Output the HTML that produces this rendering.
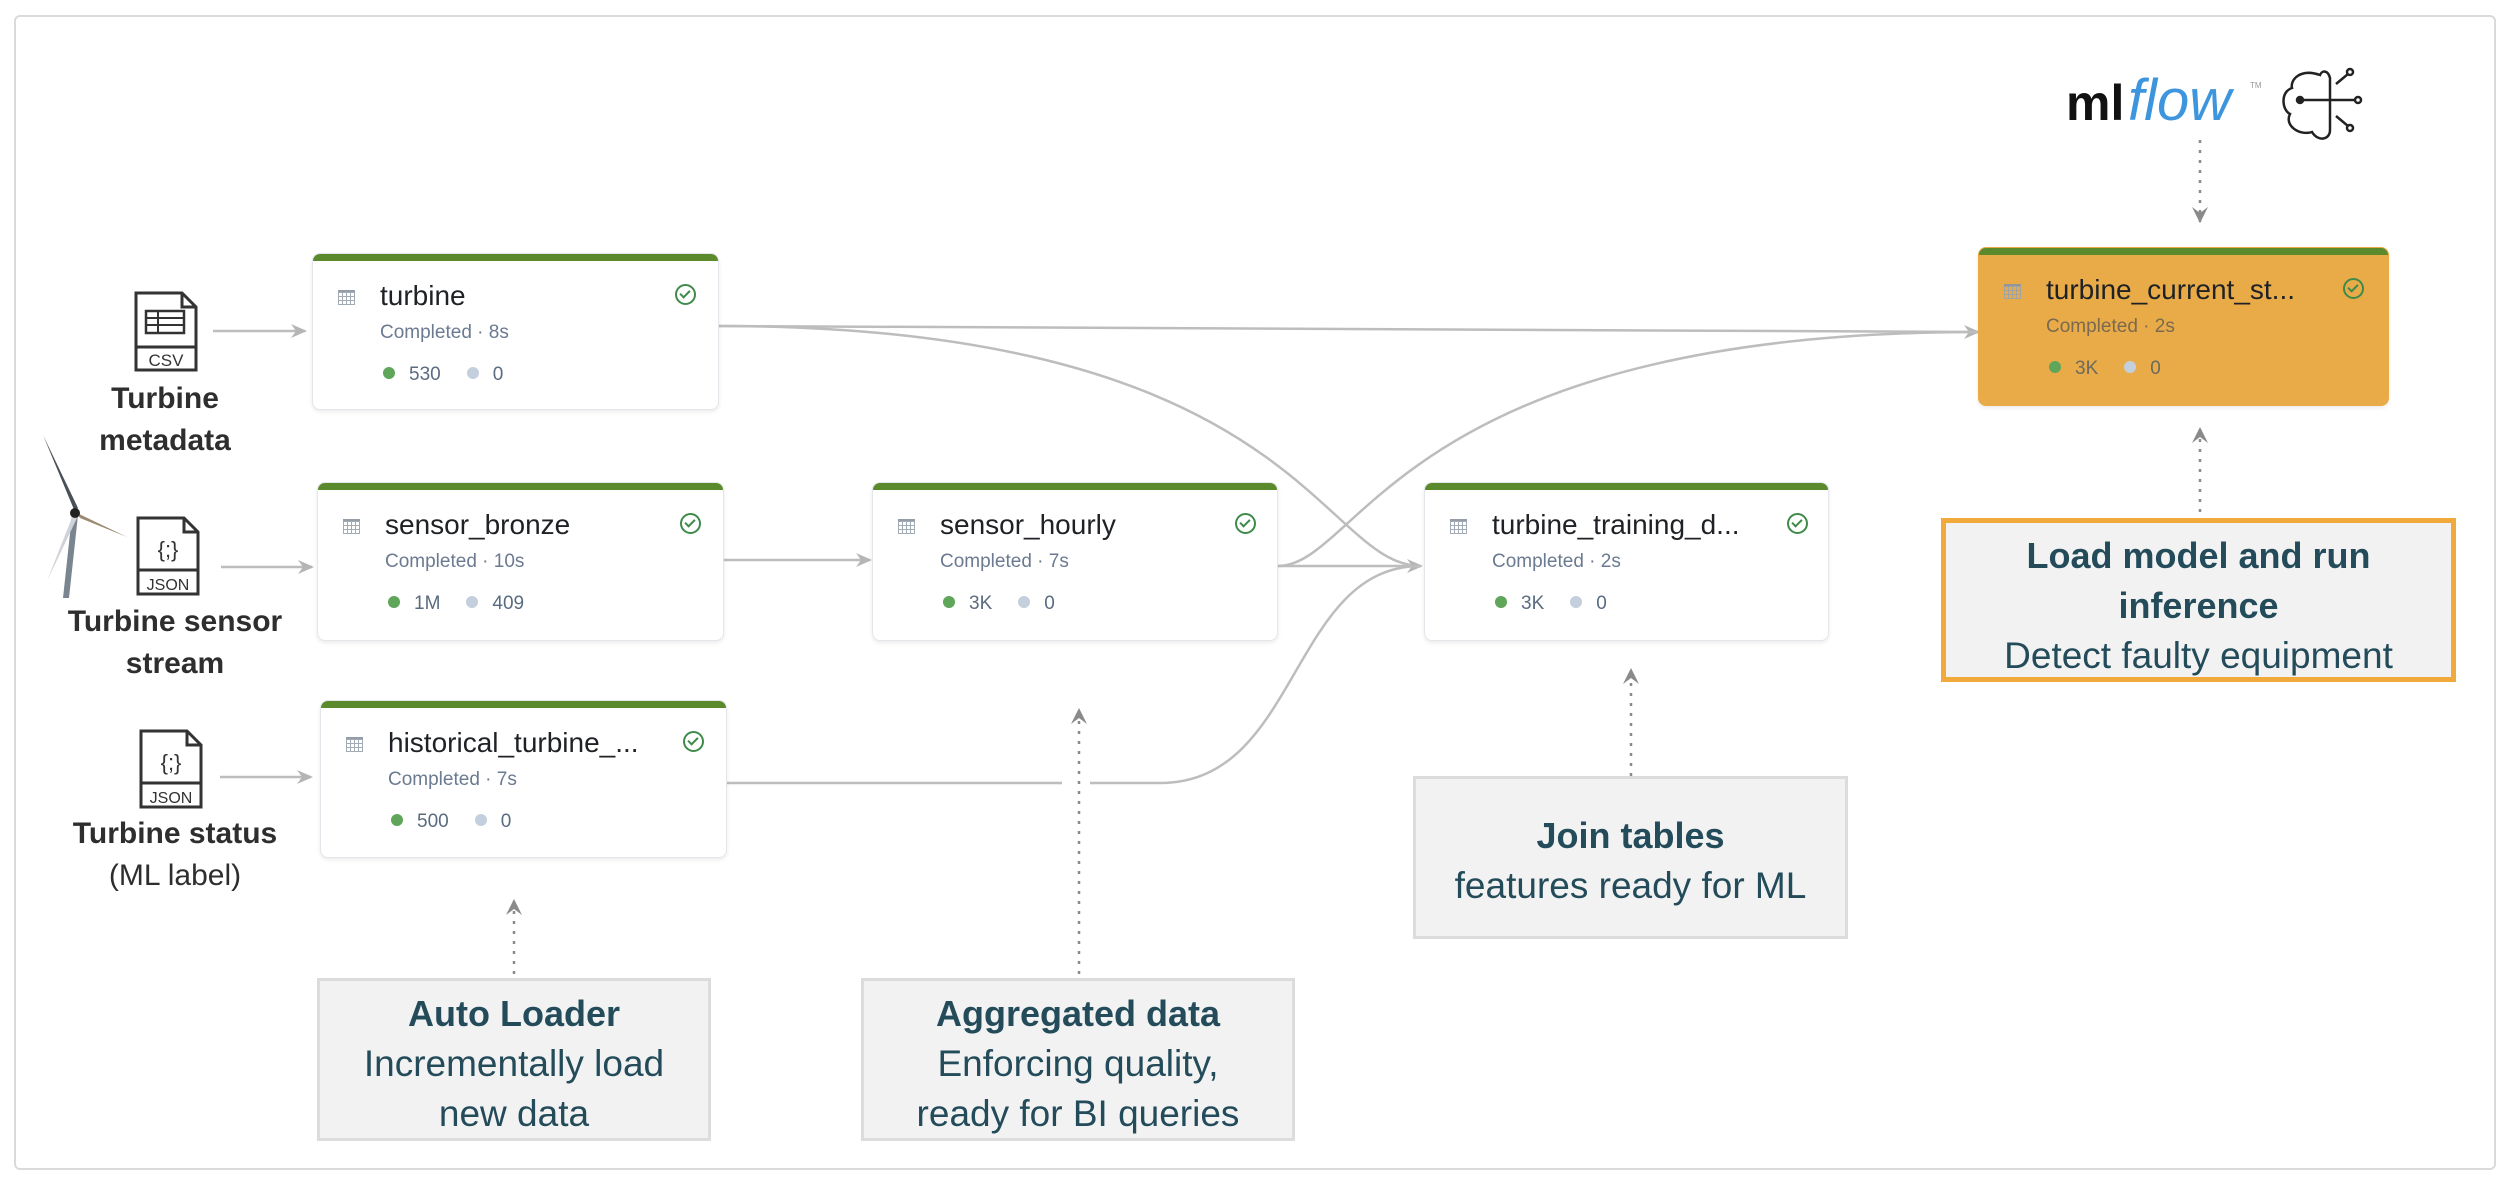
<!DOCTYPE html>
<html><head><meta charset="utf-8"><style>
body{margin:0;background:#fff;width:2508px;height:1182px;position:relative;overflow:hidden;font-family:"Liberation Sans",sans-serif}
.card{position:absolute;background:#fff;border:1px solid #e3e6ea;border-radius:8px;box-shadow:0 2px 4px rgba(0,0,0,.08);overflow:hidden;box-sizing:border-box}
.card .bar{position:absolute;left:0;top:0;right:0;height:7px;background:#5b8a2c}
.card .ic{position:absolute;left:25px;top:36px;width:17px;height:15px;background:
linear-gradient(#8a93a0,#8a93a0) 0 0/100% 2px no-repeat,
repeating-linear-gradient(90deg,#9aa3ae 0 1px,transparent 1px 4px),
repeating-linear-gradient(0deg,#9aa3ae 0 1px,transparent 1px 4px);opacity:.9}
.card .t{position:absolute;left:67px;top:26px;font-size:28px;color:#1e2125;white-space:nowrap}
.card .c{position:absolute;left:67px;top:68px;font-size:19px;color:#6b7a90;white-space:nowrap}
.card .s{position:absolute;left:70px;top:110px;font-size:19px;color:#5a6b80;white-space:nowrap}
.dot{display:inline-block;width:12px;height:12px;border-radius:50%;vertical-align:middle;margin-right:14px;position:relative;top:-2px}
.g{background:#5fa55a}.b{background:#c3cfdc;margin-left:26px}
.chk{position:absolute;left:362px;top:30px;width:17px;height:17px;border:2px solid #3e8a4a;border-radius:50%}
.chk:after{content:"";position:absolute;left:5px;top:2px;width:4px;height:8px;border:solid #3e8a4a;border-width:0 2px 2px 0;transform:rotate(45deg)}
.lbl{position:absolute;text-align:center;color:#2e2e2e;font-size:30px;line-height:42px}
.box{position:absolute;background:#f2f2f2;border:3px solid #dcdcdc;box-sizing:border-box;text-align:center;color:#234b5a;font-size:37px;line-height:50px}
.box b{font-size:36px}
</style></head><body>
<div style="position:absolute;left:14px;top:15px;width:2478px;height:1151px;border:2px solid #dadada;border-radius:6px"></div>

<svg width="2508" height="1182" style="position:absolute;left:0;top:0">
<defs>
<marker id="a" markerWidth="16" markerHeight="14" refX="14" refY="7" orient="auto" markerUnits="userSpaceOnUse"><path d="M0,0 L16,7 L0,14 L5,7 z" fill="#b5b5b5"/></marker>
<marker id="d" markerWidth="16" markerHeight="30" refX="15" refY="8" orient="auto" markerUnits="userSpaceOnUse"><path d="M0,0 L16,8 L0,16 L6,8 z" fill="#8a8a8a"/></marker>
</defs>
<g fill="none" stroke="#bdbdbd" stroke-width="2.5">
<path d="M213,331 L305,331" marker-end="url(#a)"/>
<path d="M221,567 L312,567" marker-end="url(#a)"/>
<path d="M220,777 L311,777" marker-end="url(#a)"/>
<path d="M719,326 C1200,328 1600,332 1978,332" marker-end="url(#a)"/>
<path d="M719,326 C1300,326 1320,566 1421,566"/>
<path d="M1278,566 C1360,566 1400,332 1978,332"/>
<path d="M1278,566 L1421,566" marker-end="url(#a)"/>
<path d="M724,560 L870,560" marker-end="url(#a)"/>
<path d="M727,783 L1062,783 M1090,783 L1160,783 C1300,783 1290,566 1421,566" />
</g>
<g fill="none" stroke="#8a8a8a" stroke-width="2.5" stroke-dasharray="3,7">
<path d="M2200,140 L2200,222" marker-end="url(#d)"/>
<path d="M2200,512 L2200,428" marker-end="url(#d)"/>
<path d="M514,974 L514,900" marker-end="url(#d)"/>
<path d="M1079,974 L1079,709" marker-end="url(#d)"/>
<path d="M1631,776 L1631,669" marker-end="url(#d)"/>
</g>
<!-- CSV icon -->
<g fill="none" stroke="#333" stroke-width="3">
<path d="M136,293 L182,293 L196,307 L196,370 L136,370 Z"/><path d="M182,293 L182,307 L196,307"/>
<path d="M136,347 L196,347"/>
<rect x="146" y="311" width="38" height="22" stroke-width="2.5"/><path d="M146,318 H184 M146,325 H184 M158,311 V333" stroke-width="2"/>
</g>
<text x="166" y="366" font-family="Liberation Sans" font-size="17" text-anchor="middle" fill="#333">CSV</text>
<!-- JSON icons -->
<g fill="none" stroke="#333" stroke-width="3">
<path d="M138,518 L184,518 L198,532 L198,594 L138,594 Z"/><path d="M184,518 L184,532 L198,532"/><path d="M138,570 L198,570"/>
<path d="M141,731 L187,731 L201,745 L201,807 L141,807 Z"/><path d="M187,731 L187,745 L201,745"/><path d="M141,783 L201,783"/>
</g>
<text x="168" y="557" font-family="Liberation Sans" font-size="22" text-anchor="middle" fill="#333">{;}</text>
<text x="168" y="590" font-family="Liberation Sans" font-size="16" text-anchor="middle" fill="#333">JSON</text>
<text x="171" y="770" font-family="Liberation Sans" font-size="22" text-anchor="middle" fill="#333">{;}</text>
<text x="171" y="803" font-family="Liberation Sans" font-size="16" text-anchor="middle" fill="#333">JSON</text>
<!-- wind turbine -->
<path d="M72,515 L78,515 L69,598 L63,598 Z" fill="#7b8590"/>
<path d="M75,512 L43,435 L78,508 Z" fill="#4a5058"/>
<path d="M77,513 L127,537 L80,518 Z" fill="#9a8a70"/>
<path d="M73,515 L47,581 L77,518 Z" fill="#cfd3d8"/>
<circle cx="75" cy="513" r="5" fill="#222"/>
<!-- mlflow -->
<text x="2066" y="120" font-family="Liberation Sans" font-weight="bold" font-size="50" fill="#111">ml</text>
<text x="2128" y="120" font-family="Liberation Sans" font-style="italic" font-size="58" fill="#3d95de">flow</text>
<text x="2250" y="88" font-family="Liberation Sans" font-size="8" fill="#999">TM</text>
<g fill="none" stroke="#222" stroke-width="2.5">
<path d="M2320,75 C2300,68 2290,80 2292,88 C2280,92 2282,110 2290,114 C2284,126 2300,136 2312,132 C2318,142 2330,140 2330,130 L2330,78 C2328,70 2322,70 2320,75 Z"/>
<path d="M2296,100 H2345 M2336,84 L2348,74 M2336,116 L2348,126 M2345,100 H2356"/>
<circle cx="2300" cy="100" r="3" fill="#222"/><circle cx="2350" cy="72" r="3"/><circle cx="2358" cy="100" r="3"/><circle cx="2350" cy="128" r="3"/>
</g>
</svg>

<div class="lbl" style="left:65px;top:378px;width:200px"><b>Turbine<br>metadata</b></div>
<div class="lbl" style="left:50px;top:601px;width:250px"><b>Turbine sensor<br>stream</b></div>
<div class="lbl" style="left:50px;top:813px;width:250px"><b>Turbine status</b><br>(ML label)</div>

<div class="card" style="left:312px;top:253px;width:407px;height:157px"><div class="bar"></div><div class="ic"></div><div class="t">turbine</div><div class="c">Completed · 8s</div><div class="s"><span class="dot g"></span>530<span class="dot b"></span>0</div><div class="chk"></div></div>
<div class="card" style="left:317px;top:482px;width:407px;height:159px"><div class="bar"></div><div class="ic"></div><div class="t">sensor_bronze</div><div class="c">Completed · 10s</div><div class="s"><span class="dot g"></span>1M<span class="dot b"></span>409</div><div class="chk"></div></div>
<div class="card" style="left:320px;top:700px;width:407px;height:158px"><div class="bar"></div><div class="ic"></div><div class="t">historical_turbine_...</div><div class="c">Completed · 7s</div><div class="s"><span class="dot g"></span>500<span class="dot b"></span>0</div><div class="chk"></div></div>
<div class="card" style="left:872px;top:482px;width:406px;height:159px"><div class="bar"></div><div class="ic"></div><div class="t">sensor_hourly</div><div class="c">Completed · 7s</div><div class="s"><span class="dot g"></span>3K<span class="dot b"></span>0</div><div class="chk"></div></div>
<div class="card" style="left:1424px;top:482px;width:405px;height:159px"><div class="bar"></div><div class="ic"></div><div class="t">turbine_training_d...</div><div class="c">Completed · 2s</div><div class="s"><span class="dot g"></span>3K<span class="dot b"></span>0</div><div class="chk"></div></div>
<div class="card" style="left:1978px;top:247px;width:411px;height:159px;background:#e9ab47;border-color:#e9ab47"><div class="bar"></div><div class="ic"></div><div class="t">turbine_current_st...</div><div class="c" style="color:#7a6a50">Completed · 2s</div><div class="s" style="color:#6a6a60"><span class="dot g"></span>3K<span class="dot b"></span>0</div><div class="chk" style="left:364px"></div></div>

<div class="box" style="left:1941px;top:518px;width:515px;height:164px;border:5px solid #f2a93b;padding-top:8px"><b>Load model and run<br>inference</b><br>Detect faulty equipment</div>
<div class="box" style="left:317px;top:978px;width:394px;height:163px;padding-top:8px"><b>Auto Loader</b><br>Incrementally load<br>new data</div>
<div class="box" style="left:861px;top:978px;width:434px;height:163px;padding-top:8px"><b>Aggregated data</b><br>Enforcing quality,<br>ready for BI queries</div>
<div class="box" style="left:1413px;top:776px;width:435px;height:163px;padding-top:32px"><b>Join tables</b><br>features ready for ML</div>
</body></html>
